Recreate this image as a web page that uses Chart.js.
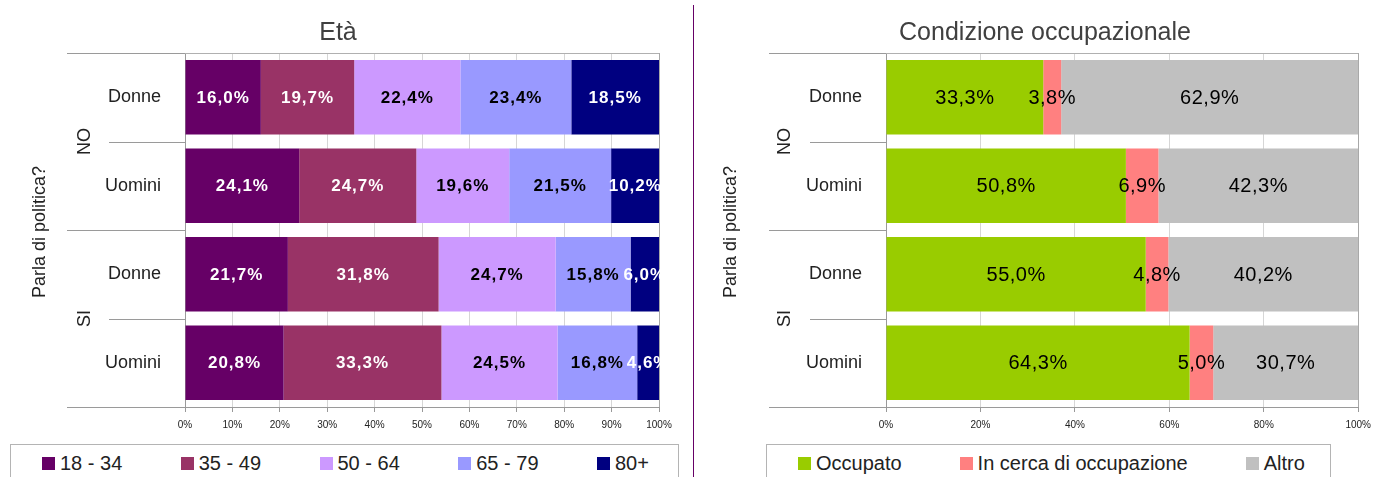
<!DOCTYPE html>
<html>
<head>
<meta charset="utf-8">
<script src="https://cdn.jsdelivr.net/npm/chart.js@4.4.0/dist/chart.umd.min.js"></script>
<style>
    body { margin: 0; width: 1378px; height: 477px; overflow: hidden; background: #fff; font-family: 'Liberation Sans', Arial, sans-serif; }
    .wrap { position: absolute; top: 0; }
    #wrapEta { left: 0; width: 690px; height: 440px; }
    #wrapOcc { left: 696px; width: 682px; height: 440px; }
    .divider { position: absolute; left: 693px; top: 5px; width: 1px; height: 472px; background: #660066; }
    .legend { position: absolute; top: 444px; height: 38px; border: 1px solid #b4b4b4; box-sizing: border-box;
              display: flex; align-items: center; font-size: 20px; color: #222; padding-left: 31px; }
    #legendEta { left: 10px; width: 669px; }
    #legendEta .item { flex: 0 0 138.75px; }
    #legendOcc { left: 766px; width: 565px; gap: 58px; }
    .item { display: flex; align-items: center; white-space: nowrap; }
    .box { width: 13px; height: 13px; margin-right: 5px; }
</style>
</head>
<body>
<div class="wrap" id="wrapEta"><canvas id="chartEta" width="690" height="440"></canvas></div>
<div class="divider"></div>
<div class="wrap" id="wrapOcc"><canvas id="chartOcc" width="682" height="440"></canvas></div>
<div class="legend" id="legendEta"></div>
<div class="legend" id="legendOcc"></div>
<script>
// DATI
const categorie = ['Donne', 'Uomini', 'Donne', 'Uomini'];
const gruppi = ['NO', 'SI'];
const titoloAsse = 'Parla di politica?';

// Età (percentuali per riga)
const classiEta = ['18 - 34', '35 - 49', '50 - 64', '65 - 79', '80+'];
const eta18_34 = [16.0, 24.1, 21.7, 20.8];
const eta35_49 = [19.7, 24.7, 31.8, 33.3];
const eta50_64 = [22.4, 19.6, 24.7, 24.5];
const eta65_79 = [23.4, 21.5, 15.8, 16.8];
const eta80 = [18.5, 10.2, 6.0, 4.6];
const coloriEta = ['#660066', '#993366', '#CC99FF', '#9999FF', '#000080'];
const coloriTestoEta = ['#ffffff', '#ffffff', '#000000', '#000000', '#ffffff'];

// Condizione occupazionale
const condizioni = ['Occupato', 'In cerca di occupazione', 'Altro'];
const occupato = [33.3, 50.8, 55.0, 64.3];
const inCerca = [3.8, 6.9, 4.8, 5.0];
const altro = [62.9, 42.3, 40.2, 30.7];
const coloriOcc = ['#99CC00', '#FF8080', '#C0C0C0'];
const coloriTestoOcc = ['#000000', '#000000', '#000000'];

const FONT = "'Liberation Sans', Arial, sans-serif";
const fmt = v => v.toFixed(1).replace('.', ',') + '%';

// plugin: etichette nelle barre, titolo, linee e gruppi sull'asse y
const gruppiPlugin = {
    id: 'gruppi',
    afterDatasetsDraw(chart, args, opts) {
        const ctx = chart.ctx;
        ctx.save();
        ctx.font = opts.labelFont;
        ctx.letterSpacing = opts.labelSpacing;
        ctx.textAlign = 'center';
        ctx.textBaseline = 'middle';
        chart.data.datasets.forEach((ds, i) => {
            chart.getDatasetMeta(i).data.forEach((bar, j) => {
                ctx.fillStyle = opts.labelColors[i];
                ctx.fillText(fmt(ds.data[j]), (bar.x + bar.base) / 2, bar.y + 1);
            });
        });
        ctx.restore();
    },
    afterDraw(chart, args, opts) {
        const ctx = chart.ctx;
        const area = chart.chartArea;
        const y = chart.scales.y;
        ctx.save();
        // titolo
        ctx.font = '25px ' + FONT;
        ctx.fillStyle = '#404040';
        ctx.textAlign = 'center';
        ctx.textBaseline = 'alphabetic';
        ctx.fillText(opts.title, opts.titleX, 40);

        // linee separatrici
        const n = categorie.length;
        const bordo = [area.top];
        for (let i = 0; i < n - 1; i++) bordo.push((y.getPixelForValue(i) + y.getPixelForValue(i + 1)) / 2);
        bordo.push(area.bottom);
        ctx.lineWidth = 1;
        bordo.forEach((py, k) => {
            const yy = Math.round(py) + 0.5;
            const esterna = k % 2 === 0;
            ctx.strokeStyle = '#9a9a9a';
            ctx.beginPath();
            ctx.moveTo(esterna ? opts.outerX : opts.innerX, yy);
            ctx.lineTo(area.left, yy);
            ctx.stroke();
            if (k === 0) {
                ctx.strokeStyle = '#b0b0b0';
                ctx.beginPath();
                ctx.moveTo(area.left, yy);
                ctx.lineTo(area.right, yy);
                ctx.stroke();
            }
        });

        // etichette dei gruppi
        ctx.font = '18px ' + FONT;
        ctx.fillStyle = '#222';
        ctx.textBaseline = 'middle';
        gruppi.forEach((g, k) => {
            const cy = (bordo[k * 2] + bordo[k * 2 + 2]) / 2;
            ctx.save();
            ctx.translate(opts.groupX, cy);
            ctx.rotate(-Math.PI / 2);
            ctx.fillText(g, 0, 0);
            ctx.restore();
        });
        // titolo asse
        ctx.translate(opts.axisTitleX, (area.top + area.bottom) / 2 + 2);
        ctx.rotate(-Math.PI / 2);
        ctx.fillText(titoloAsse, 0, 0);
        ctx.restore();
    }
};

function creaGrafico(id, serie, nomi, colori, coloriTesto, step, conf) {
    return new Chart(document.getElementById(id), {
        type: 'bar',
        data: {
            labels: categorie,
            datasets: serie.map((d, i) => ({
                label: nomi[i],
                data: d,
                backgroundColor: colori[i],
                borderWidth: 0,
                categoryPercentage: 1,
                barPercentage: 0.84
            }))
        },
        options: {
            indexAxis: 'y',
            responsive: false,
            animation: false,
            devicePixelRatio: 1,
            layout: { padding: { left: 0, right: conf.padRight, top: 53, bottom: 0 } },
            plugins: {
                legend: { display: false },
                title: { display: false },
                tooltip: { enabled: false },
                gruppi: {
                    title: conf.title, titleX: conf.titleX,
                    outerX: conf.outerX, innerX: conf.innerX,
                    groupX: conf.groupX, axisTitleX: conf.axisTitleX,
                    labelFont: conf.labelFont, labelSpacing: conf.labelSpacing,
                    labelColors: coloriTesto
                }
            },
            scales: {
                x: {
                    stacked: true,
                    min: 0,
                    max: 100,
                    afterFit: s => { s.height = 33; },
                    ticks: {
                        stepSize: step,
                        padding: 7,
                        color: '#222',
                        font: { family: FONT, size: 10 },
                        callback: v => v + '%'
                    },
                    grid: {
                        color: c => (c.tick && c.tick.value === 100) ? '#a8a8a8' : '#d6d6d6',
                        tickColor: '#999',
                        tickLength: 5
                    },
                    border: { color: '#9a9a9a' }
                },
                y: {
                    stacked: true,
                    z: 1,
                    afterFit: s => { s.width = conf.yWidth; },
                    grid: { display: false },
                    border: { display: true, color: '#9a9a9a' },
                    ticks: {
                        padding: 16,
                        color: '#222',
                        font: { family: FONT, size: 18 }
                    }
                }
            }
        },
        plugins: [gruppiPlugin]
    });
}

function creaLegenda(id, nomi, colori) {
    const el = document.getElementById(id);
    nomi.forEach((n, i) => {
        const item = document.createElement('div');
        item.className = 'item';
        item.innerHTML = `<span class="box" style="background:${colori[i]}"></span><span>${n}</span>`;
        el.appendChild(item);
    });
}

creaGrafico('chartEta', [eta18_34, eta35_49, eta50_64, eta65_79, eta80], classiEta, coloriEta, coloriTestoEta, 10, {
    title: 'Età', titleX: 338, padRight: 31, yWidth: 185,
    outerX: 67, innerX: 109, groupX: 85, axisTitleX: 40,
    labelFont: 'bold 17px ' + FONT, labelSpacing: '1px'
});
creaGrafico('chartOcc', [occupato, inCerca, altro], condizioni, coloriOcc, coloriTestoOcc, 20, {
    title: 'Condizione occupazionale', titleX: 349, padRight: 19, yWidth: 190,
    outerX: 73, innerX: 114, groupX: 89, axisTitleX: 35,
    labelFont: '20px ' + FONT, labelSpacing: '0.5px'
});
creaLegenda('legendEta', classiEta, coloriEta);
creaLegenda('legendOcc', condizioni, coloriOcc);
</script>
</body>
</html>
